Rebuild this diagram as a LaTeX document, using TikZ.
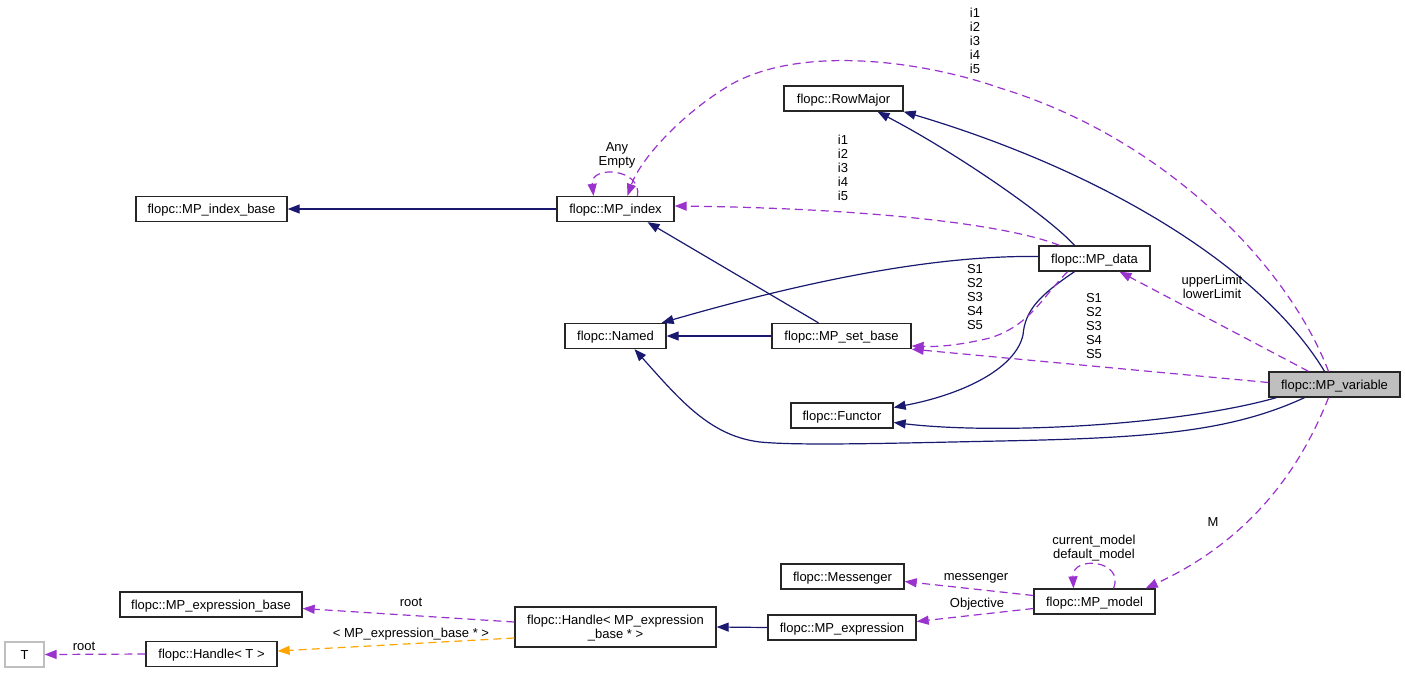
\documentclass[tikz,border=0pt]{standalone}
\usepackage{fontspec}
\setmainfont{Liberation Sans}
\usetikzlibrary{arrows.meta,calc}
\definecolor{navyc}{RGB}{25,25,112}
\definecolor{purp}{RGB}{154,50,205}
\definecolor{orng}{RGB}{255,165,0}
\definecolor{grayc}{RGB}{191,191,191}
\begin{document}
\begin{tikzpicture}[x=1pt,y=-1pt,font=\fontsize{13}{14}\selectfont,
  cls/.style={draw=black!85, line width=1.3pt, inner sep=0pt, fill=white, align=center, minimum height=25pt, text height=11.5pt, text depth=2pt},
  inh/.style={navyc, line width=1.2pt, -{Triangle[length=12pt,width=9pt]}},
  use/.style={purp, line width=1.2pt, dash pattern=on 8pt off 5pt, -{Triangle[length=12pt,width=9pt]}},
  tmpl/.style={orng, line width=1.2pt, dash pattern=on 8pt off 5pt, -{Triangle[length=12pt,width=9pt]}},
  lbl/.style={align=center, inner sep=0pt, text=black}]
\useasboundingbox (0,0) rectangle (1405,673);
% nodes
\node[cls, minimum width=119pt] (rowmajor) at (843.5,98.5) {flopc::RowMajor};
\node[cls, minimum width=151pt] (indexbase) at (211.5,209) {flopc::MP\_index\_base};
\node[cls, minimum width=117pt] (mpindex) at (615.5,209) {flopc::MP\_index};
\node[cls, minimum width=111pt] (mpdata) at (1094.5,258.5) {flopc::MP\_data};
\node[cls, minimum width=101pt] (named) at (615.5,336) {flopc::Named};
\node[cls, minimum width=139pt] (setbase) at (841.5,336) {flopc::MP\_set\_base};
\node[cls, minimum width=102pt] (functor) at (842,415.5) {flopc::Functor};
\node[cls, minimum width=131pt, fill=grayc] (mpvar) at (1334.5,384.5) {flopc::MP\_variable};
\node[cls, minimum width=123pt] (messenger) at (842.5,576.5) {flopc::Messenger};
\node[cls, minimum width=121pt] (mpmodel) at (1094.5,601.5) {flopc::MP\_model};
\node[cls, minimum width=148pt] (mpexpr) at (842,627.5) {flopc::MP\_expression};
\node[cls, minimum width=201pt, minimum height=40pt, text height=25.5pt, text depth=2pt] (handle) at (615.5,627) {flopc::Handle< MP\_expression\\\_base * >};
\node[cls, minimum width=182pt] (exprbase) at (211,604.5) {flopc::MP\_expression\_base};
\node[cls, minimum width=131pt] (handlet) at (211.5,654) {flopc::Handle< T >};
\node[cls, minimum width=39pt, draw=grayc] (tnode) at (24.5,654.5) {T};
% inheritance edges
\draw[inh] (mpindex.west) -- (indexbase.east);
\draw[inh] ($(setbase.north)+(-23,0)$) -- ($(mpindex.south)+(32,0)$);
\draw[inh] (setbase.west) -- (named.east);
\draw[inh] ($(mpdata.west)+(0,-2)$) .. controls (930,255) and (800,283) .. ($(named.north east)+(-5,0)$);
\draw[inh] ($(mpdata.north)+(-20,0)$) .. controls (1050,218) and (960,155) .. ($(rowmajor.south)+(34,0)$);
\draw[inh] ($(mpdata.south)+(-20,0)$) .. controls (1040,295) and (1025,310) .. (1023,335) .. controls (1015,370) and (960,395) .. ($(functor.east)+(0,-8)$);
\draw[inh] ($(mpvar.north)+(-10,0)$) .. controls (1260,265) and (1100,170) .. (rowmajor.south east);
\draw[inh] ($(mpvar.south west)+(8,0)$) .. controls (1180,425) and (1000,435) .. ($(functor.east)+(0,7)$);
\draw[inh] ($(mpvar.south)+(-30,0)$) .. controls (1230,432) and (1150,438) .. (1000,441) .. controls (900,443) and (800,446) .. (760,442) .. controls (710,436) and (680,400) .. ($(named.south)+(19,0)$);
\draw[inh] (mpexpr.west) -- (handle.east);
% usage edges
\draw[use] ($(mpvar.north)+(-26,0)$) -- ($(mpdata.south)+(25,0)$);
\node[lbl] (lul) at (1212,287) {upperLimit\\lowerLimit};
\draw[use] ($(mpvar.west)+(0,-2)$) -- (setbase.south east);
\node[lbl] (ls2) at (1094,326) {S1\\S2\\S3\\S4\\S5};
\draw[use] ($(mpdata.south)+(-27,0)$) .. controls (1040,300) and (1030,325) .. (990,338) .. controls (960,345) and (940,347) .. ($(setbase.east)+(0,10)$);
\node[lbl] (ls1) at (975,297) {S1\\S2\\S3\\S4\\S5};
\draw[use] ($(mpdata.north)+(-35,0)$) .. controls (1000,222) and (850,208) .. ($(mpindex.east)+(0,-3)$);
\node[lbl] (li2) at (843,168) {i1\\i2\\i3\\i4\\i5};
\draw[use] ($(mpvar.north)+(-6,0)$) .. controls (1290,270) and (1170,140) .. (1000,88) .. controls (920,60) and (800,45) .. (730,85) .. controls (680,115) and (640,160) .. ($(mpindex.north)+(12,0)$);
\node[lbl] (li1) at (975,41) {i1\\i2\\i3\\i4\\i5};
\draw[use] ($(mpindex.north)+(22,0)$) .. controls (642,168) and (590,165) .. ($(mpindex.north)+(-22,0)$);
\node[lbl] (lany) at (617,155) {Any\\Empty};
\draw[use] ($(mpvar.south)+(-6,0)$) .. controls (1300,470) and (1250,540) .. ($(mpmodel.north east)+(-10,0)$);
\node[lbl] (lm) at (1213,522) {M};
\draw[use] ($(mpmodel.north)+(19,0)$) .. controls (1125,560) and (1072,555) .. ($(mpmodel.north)+(-21,0)$);
\node[lbl] (lcm) at (1094,548) {current\_model\\default\_model};
\draw[use] ($(mpmodel.west)+(0,-6)$) -- ($(messenger.east)+(0,5)$);
\node[lbl] (lmsg) at (976,578) {messenger};
\draw[use] ($(mpmodel.west)+(0,7)$) -- ($(mpexpr.east)+(0,-6)$);
\node[lbl] (lobj) at (977,604) {Objective};
\draw[use] ($(handle.west)+(0,-5)$) -- ($(exprbase.east)+(0,4)$);
\node[lbl] (lroot1) at (411,602) {root};
\draw[tmpl] ($(handle.west)+(0,11)$) -- ($(handlet.east)+(0,-3)$);
\node[lbl] (ltmpl) at (411,634) {< MP\_expression\_base * >};
\draw[use] (handlet.west) -- (tnode.east);
\node[lbl] (lroot2) at (84,646) {root};
\end{tikzpicture}
\end{document}
